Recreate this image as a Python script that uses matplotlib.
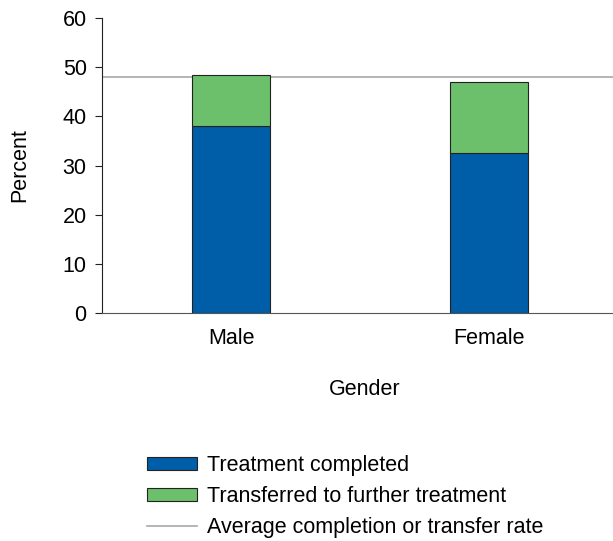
import matplotlib
matplotlib.use('Agg')
import matplotlib.pyplot as plt
from matplotlib.patches import Patch
from matplotlib.lines import Line2D

plt.rcParams['font.family'] = ['Liberation Sans', 'DejaVu Sans']

genders = ['Male', 'Female']
completed = [38.1, 32.5]
transferred = [10.4, 14.4]
average_rate = 48.1

blue = '#005ea8'
green = '#6cc06c'
fs = 15.5

fig = plt.figure(figsize=(6.13, 5.41), dpi=100)
ax = fig.add_axes([0.1664, 0.4214, 0.8336, 0.5453])

x = list(range(len(genders)))
ax.bar(x, completed, width=0.3, color=blue, edgecolor='#222222', linewidth=0.8)
ax.bar(x, transferred, width=0.3, bottom=completed, color=green, edgecolor='#222222', linewidth=0.8)
ax.axhline(average_rate, color='#a8a8a8', linewidth=1.2, zorder=0)

ax.set_xlim(-0.5, 1.48)
ax.set_ylim(0, 60)
ax.set_yticks(range(0, 61, 10))
ax.set_xticks(x)
ax.set_xticklabels(genders)
ax.tick_params(axis='x', length=0, pad=11, labelsize=fs)
ax.tick_params(axis='y', direction='out', length=5, pad=6, labelsize=fs, color='#222222')
ax.spines['top'].set_visible(False)
ax.spines['right'].set_visible(False)
ax.spines['left'].set_color('#222222')
ax.spines['bottom'].set_color('#555555')
ax.set_xlabel('Gender', fontsize=fs)
ax.xaxis.set_label_coords(0.515, -0.225)
ax.set_ylabel('Percent', fontsize=fs, labelpad=23)

handles = [
    Patch(facecolor=blue, edgecolor='#222222', linewidth=0.8),
    Patch(facecolor=green, edgecolor='#222222', linewidth=0.8),
    Line2D([0], [0], color='#a8a8a8', linewidth=1.2),
]
labels = ['Treatment completed', 'Transferred to further treatment',
          'Average completion or transfer rate']
fig.legend(handles, labels, loc='upper left', bbox_to_anchor=(147 / 613, 1 - 455 / 541),
           frameon=False, fontsize=fs, handlelength=2.3, handleheight=0.56,
           handletextpad=0.5, labelspacing=0.46, borderpad=0, borderaxespad=0)

fig.savefig('out.png', dpi=100)
